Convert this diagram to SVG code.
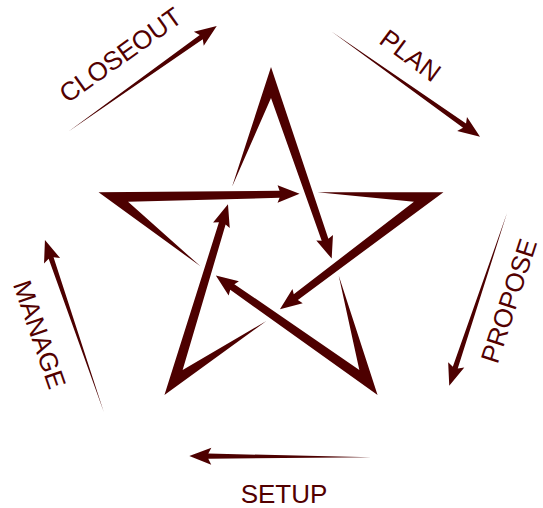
<svg xmlns="http://www.w3.org/2000/svg" xmlns:xlink="http://www.w3.org/1999/xlink" width="543" height="508" viewBox="0 0 543 508">
<style>
.ink{fill:#4d0000;stroke:none}
.lbl{fill:#520000;font-family:"Liberation Sans",Arial,sans-serif;font-size:26px;text-anchor:middle}
</style>
<defs>
<path id="sa" d="M232.06,186.83 L271,67 L328.36,238.68 L332.97,235.08 L331.68,258.62 L316.32,240.48 L321.70,240.84 L271,98 Z"/>
<path id="oa" d="M0,0 L163,-2.6 L160,-8.5 L182,0 L160,8.5 L163,2.6 Z"/>
</defs>
<rect width="543" height="508" fill="#ffffff"/>
<g id="star" class="ink">
<use xlink:href="#sa" href="#sa"/>
<use xlink:href="#sa" href="#sa" transform="rotate(-72 271 248.3)"/>
<use xlink:href="#sa" href="#sa" transform="rotate(-144 271 248.3)"/>
<use xlink:href="#sa" href="#sa" transform="rotate(-216 271 248.3)"/>
<use xlink:href="#sa" href="#sa" transform="rotate(-288 271 248.3)"/>
</g>
<g id="connectors" class="ink">
<use xlink:href="#oa" href="#oa" transform="translate(68.5,131.6) rotate(-35.46)"/>
<use xlink:href="#oa" href="#oa" transform="translate(331.5,31.5) rotate(35.3)"/>
<use xlink:href="#oa" href="#oa" transform="translate(507,213.1) rotate(108.5)"/>
<use xlink:href="#oa" href="#oa" transform="translate(103.9,412.2) rotate(251.1)"/>
<use xlink:href="#oa" href="#oa" transform="translate(371.3,457.3) rotate(180.4)"/>
</g>
<g id="closeout"><text class="lbl" transform="translate(125.8,62.3) rotate(-35.5)">CLOSEOUT</text></g>
<g id="plan"><text class="lbl" transform="translate(405.1,62.6) rotate(36.5)">PLAN</text></g>
<g id="propose"><text class="lbl" transform="translate(517.4,303.7) rotate(-72)">PROPOSE</text></g>
<g id="manage"><text class="lbl" transform="translate(31,337.4) rotate(71)">MANAGE</text></g>
<g id="setup"><text class="lbl" transform="translate(284,503.3)">SETUP</text></g>
</svg>
